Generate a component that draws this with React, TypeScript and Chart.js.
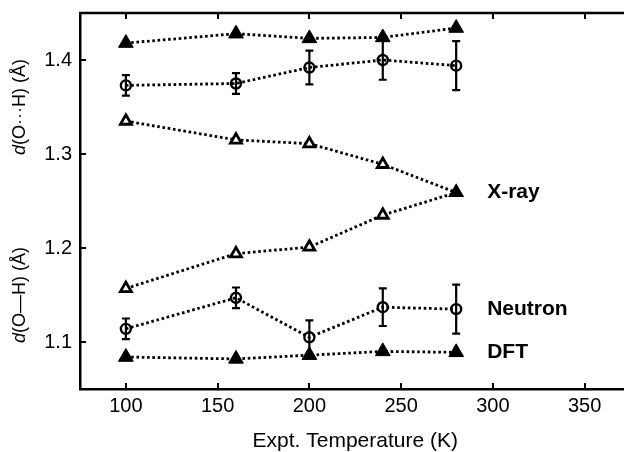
import React, { useEffect, useRef } from "react";
import { Chart, registerables } from "chart.js";

Chart.register(...registerables);

// Temperatures (K)
const temps = [100, 160, 200, 240, 280];

// Hydrogen-bond distance d(O···H), Å
const dftHB = [1.418, 1.428, 1.423, 1.424, 1.434];
const neutronHB = [1.373, 1.375, 1.392, 1.4, 1.394];
const neutronHBErr = [0.011, 0.011, 0.018, 0.021, 0.026];
const xrayHB = [1.335, 1.315, 1.311, 1.289, 1.259];

// Covalent distance d(O–H), Å
const xrayOH = [1.157, 1.194, 1.201, 1.235, 1.259];
const neutronOH = [1.114, 1.147, 1.105, 1.137, 1.135];
const neutronOHErr = [0.011, 0.011, 0.018, 0.02, 0.026];
const dftOH = [1.084, 1.082, 1.086, 1.09, 1.089];

const xTicks = [100, 150, 200, 250, 300, 350];
const yTicks = [1.1, 1.2, 1.3, 1.4];

const FONT = '"Liberation Sans", Arial, Helvetica, sans-serif';

const pts = (ys: number[]) => temps.map((t, i) => ({ x: t, y: ys[i] }));

const lineBase = {
  showLine: true,
  borderColor: "#000",
  borderWidth: 2.8,
  borderDash: [2.6, 2.7],
  pointBorderColor: "#000",
};

const decorPlugin = {
  id: "decor",
  afterDatasetsDraw(chart: any) {
    const { ctx, chartArea, scales } = chart;
    const { left, right, top, bottom } = chartArea;
    const xs = scales.x;
    const ys = scales.y;
    ctx.save();
    ctx.strokeStyle = "#000";
    ctx.lineCap = "butt";

    // frame top line
    ctx.lineWidth = 2.5;
    ctx.beginPath();
    ctx.moveTo(left - 1, top);
    ctx.lineTo(right + 1, top);
    ctx.stroke();

    // inward ticks
    ctx.lineWidth = 2;
    const tl = 6;
    xTicks.forEach((v) => {
      const px = Math.round(xs.getPixelForValue(v));
      ctx.beginPath();
      ctx.moveTo(px, bottom);
      ctx.lineTo(px, bottom - tl);
      ctx.moveTo(px, top);
      ctx.lineTo(px, top + tl);
      ctx.stroke();
    });
    yTicks.forEach((v) => {
      const py = Math.round(ys.getPixelForValue(v));
      ctx.beginPath();
      ctx.moveTo(left, py);
      ctx.lineTo(left + tl, py);
      ctx.stroke();
    });

    // error bars
    const bars: [number[], number[]][] = [
      [neutronHB, neutronHBErr],
      [neutronOH, neutronOHErr],
    ];
    ctx.lineWidth = 2.2;
    bars.forEach(([vals, errs]) => {
      temps.forEach((t, i) => {
        const px = xs.getPixelForValue(t);
        const y1 = ys.getPixelForValue(vals[i] + errs[i]);
        const y2 = ys.getPixelForValue(vals[i] - errs[i]);
        ctx.beginPath();
        ctx.moveTo(px, y1);
        ctx.lineTo(px, y2);
        ctx.moveTo(px - 4, y1);
        ctx.lineTo(px + 4, y1);
        ctx.moveTo(px - 4, y2);
        ctx.lineTo(px + 4, y2);
        ctx.stroke();
      });
    });

    // series labels beside the last points
    ctx.fillStyle = "#000";
    ctx.font = `bold 21px ${FONT}`;
    ctx.textBaseline = "middle";
    ctx.textAlign = "left";
    const last = temps.length - 1;
    const lx = xs.getPixelForValue(temps[last]) + 31;
    ctx.fillText("X-ray", lx, ys.getPixelForValue(xrayOH[last]));
    ctx.fillText("Neutron", lx, ys.getPixelForValue(neutronOH[last]));
    ctx.fillText("DFT", lx, ys.getPixelForValue(dftOH[last]));

    // rotated y titles with italic d
    const drawTitle = (rest: string, cy: number) => {
      ctx.save();
      ctx.translate(20, cy);
      ctx.rotate(-Math.PI / 2);
      ctx.textBaseline = "middle";
      ctx.textAlign = "left";
      ctx.font = `italic 18px ${FONT}`;
      const wd = ctx.measureText("d").width;
      ctx.font = `18px ${FONT}`;
      const wr = ctx.measureText(rest).width;
      const x0 = -(wd + wr) / 2;
      ctx.font = `italic 18px ${FONT}`;
      ctx.fillText("d", x0, 0);
      ctx.font = `18px ${FONT}`;
      ctx.fillText(rest, x0 + wd, 0);
      ctx.restore();
    };
    drawTitle("(O\u00B7\u00B7\u00B7H) (\u00C5)", (ys.getPixelForValue(1.4) + ys.getPixelForValue(1.3)) / 2);
    drawTitle("(O\u2014H) (\u00C5)", (ys.getPixelForValue(1.2) + ys.getPixelForValue(1.1)) / 2);

    ctx.restore();
  },
};

export default function App() {
  const ref = useRef<HTMLCanvasElement | null>(null);

  useEffect(() => {
    if (!ref.current) return;
    const white = ["#fff", "#fff", "#fff", "#fff", "#000"];
    const chart = new Chart(ref.current, {
      type: "scatter",
      data: {
        datasets: [
          { ...lineBase, label: "DFT O···H", data: pts(dftHB), pointStyle: "triangle", pointRadius: 8.5, pointBackgroundColor: "#000", pointBorderWidth: 1 },
          { ...lineBase, label: "Neutron O···H", data: pts(neutronHB), pointStyle: "circle", pointRadius: 5, pointBackgroundColor: "rgba(0,0,0,0)", pointBorderWidth: 2.4 },
          { ...lineBase, label: "X-ray O···H", data: pts(xrayHB), pointStyle: "triangle", pointRadius: 6.3, pointBackgroundColor: white, pointBorderWidth: 2.8 },
          { ...lineBase, label: "X-ray O–H", data: pts(xrayOH), pointStyle: "triangle", pointRadius: 6.3, pointBackgroundColor: white, pointBorderWidth: 2.8 },
          { ...lineBase, label: "Neutron O–H", data: pts(neutronOH), pointStyle: "circle", pointRadius: 5, pointBackgroundColor: "rgba(0,0,0,0)", pointBorderWidth: 2.4 },
          { ...lineBase, label: "DFT O–H", data: pts(dftOH), pointStyle: "triangle", pointRadius: 8.5, pointBackgroundColor: "#000", pointBorderWidth: 1 },
        ],
      },
      options: {
        responsive: false,
        animation: false,
        devicePixelRatio: 1,
        layout: { padding: { left: 0, top: 13, right: 7, bottom: 0 } },
        plugins: { legend: { display: false }, tooltip: { enabled: false } },
        scales: {
          x: {
            type: "linear",
            min: 75,
            max: 375,
            grid: { display: false, drawTicks: false },
            border: { display: true, color: "#000", width: 2.5 },
            afterBuildTicks: (s: any) => {
              s.ticks = xTicks.map((v) => ({ value: v }));
            },
            afterFit: (s: any) => {
              s.height = 63;
              s.paddingLeft = 0;
              s.paddingRight = 0;
            },
            ticks: { color: "#000", font: { family: FONT, size: 20 }, padding: 5, maxRotation: 0, autoSkip: false },
            title: { display: true, text: "Expt. Temperature (K)", color: "#000", font: { family: FONT, size: 21 }, padding: { top: 2, bottom: -2 } },
          },
          y: {
            type: "linear",
            min: 1.05,
            max: 1.45,
            grid: { display: false, drawTicks: false },
            border: { display: true, color: "#000", width: 2.5 },
            afterBuildTicks: (s: any) => {
              s.ticks = yTicks.map((v) => ({ value: v }));
            },
            afterFit: (s: any) => {
              s.width = 80;
              s.paddingTop = 0;
              s.paddingBottom = 0;
            },
            ticks: { color: "#000", font: { family: FONT, size: 20 }, padding: 8, callback: (v: any) => Number(v).toFixed(1) },
          },
        },
      },
      plugins: [decorPlugin],
    });
    return () => chart.destroy();
  }, []);

  return (
    <div style={{ position: "fixed", left: 0, top: 0, width: 624, height: 452, overflow: "hidden", background: "#fff" }}>
      <canvas ref={ref} width={640} height={452} style={{ display: "block" }} />
    </div>
  );
}
